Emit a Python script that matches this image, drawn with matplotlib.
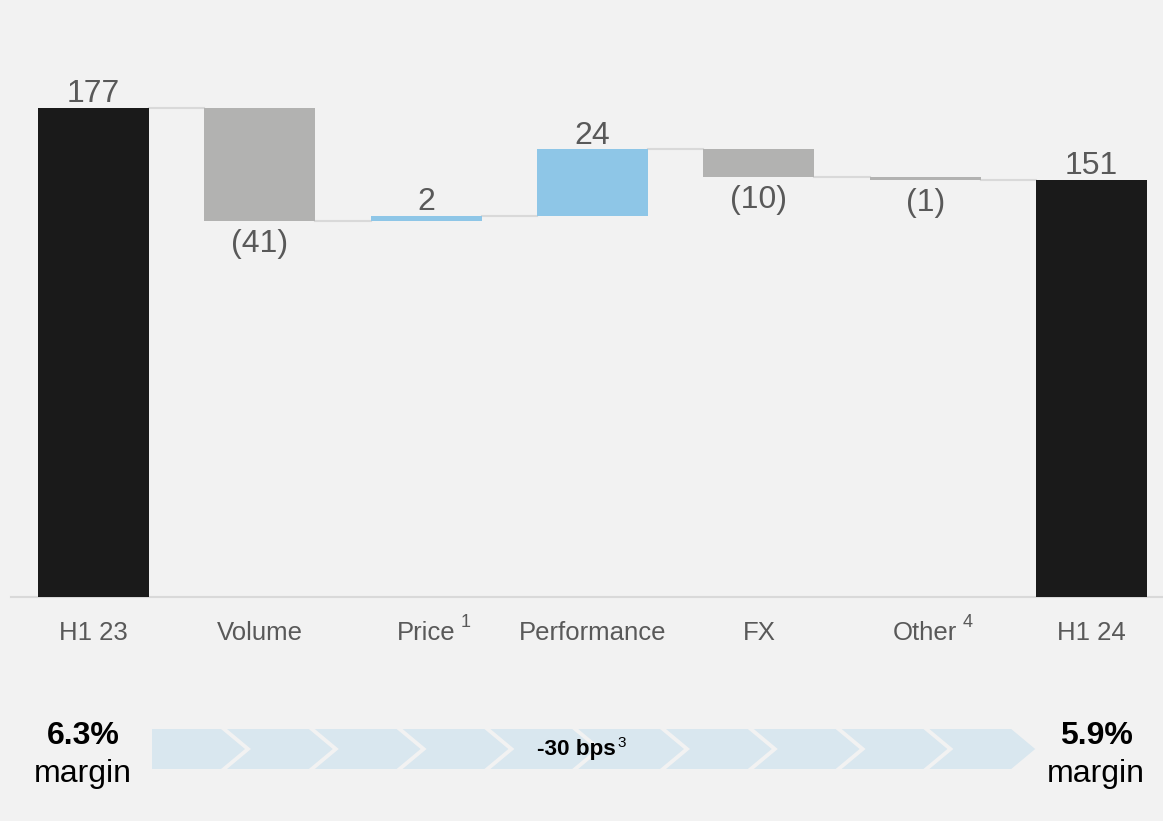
import matplotlib.pyplot as plt
from matplotlib.patches import Polygon

plt.rcParams['font.family'] = ['Liberation Sans', 'DejaVu Sans']

# datos del puente (EBIT, m)
categories = ['H1 23', 'Volume', 'Price', 'Performance', 'FX', 'Other', 'H1 24']
values = [177, -41, 2, 24, -10, -1, 151]
is_total = [True, False, False, False, False, False, True]
labels = ['177', '(41)', '2', '24', '(10)', '(1)', '151']
footnotes = {'Price': '1', 'Other': '4'}

margin_start = '6.3%'
margin_end = '5.9%'
margin_change = '-30 bps'

black = '#1a1a1a'
grey = '#b2b2b1'
blue = '#8ec6e7'
bg = '#f2f2f2'
txt = '#595959'

W, H = 1163, 821
fig = plt.figure(figsize=(W / 100, H / 100), dpi=100, facecolor=bg)
ax = fig.add_axes([11 / W, (H - 597) / H, 1 - 11 / W, 597 / H])
ax.set_facecolor(bg)

width = 0.667
running = 0
for i, v in enumerate(values):
    if is_total[i]:
        b, t = 0, v
        running = v
    else:
        b, t = sorted([running, running + v])
        running += v
    col = black if is_total[i] else (blue if v > 0 else grey)
    ax.bar(i, t - b, bottom=b, width=width, color=col, zorder=3)
    if is_total[i] or v > 0:
        ax.annotate(labels[i], (i, t), xytext=(0, -1), textcoords='offset points',
                    ha='center', va='bottom', fontsize=23, color=txt)
    else:
        ax.annotate(labels[i], (i, b), xytext=(0, -6), textcoords='offset points',
                    ha='center', va='top', fontsize=23, color=txt)

# lineas de conexion
level = values[0]
for i in range(len(values) - 1):
    if not is_total[i]:
        level += values[i]
    else:
        level = values[i]
    ax.plot([i + width / 2, i + 1 - width / 2], [level, level],
            color='#d9d9d9', lw=1.5, zorder=2)

ax.set_xlim(-0.496, 6.43)
ax.set_ylim(0, 216)
for s in ['top', 'left', 'right']:
    ax.spines[s].set_visible(False)
ax.spines['bottom'].set_color('#d9d9d9')
ax.spines['bottom'].set_linewidth(1.5)
ax.set_yticks([])
ax.set_xticks(range(len(categories)))
ax.set_xticklabels(categories, fontsize=18.5, color=txt)
ax.tick_params(axis='x', length=0, pad=17.5)

for i, c in enumerate(categories):
    if c in footnotes:
        dx = {'Price': 24.5, 'Other': 27}[c]
        ax.annotate(footnotes[c], (i, 0), xycoords=('data', 'axes fraction'),
                    xytext=(dx, -18.5), textcoords='offset points',
                    ha='left', va='center', fontsize=13, color=txt)

# franja de flechas del margen
ov = fig.add_axes([0, 0, 1, 1])
ov.set_xlim(0, W)
ov.set_ylim(H, 0)
ov.axis('off')
ov.patch.set_alpha(0)

n_chev = 10
pitch = 87.8
d = 24
top, bot = 729, 769
mid = (top + bot) / 2
for k in range(n_chev):
    tip = 245 + pitch * k
    right = tip - d
    if k == 0:
        pts = [(152, top), (right, top), (tip, mid), (right, bot), (152, bot)]
    else:
        left = 245 + pitch * (k - 1) - 18
        pts = [(left, top), (right, top), (tip, mid), (right, bot), (left, bot), (left + d, mid)]
    ov.add_patch(Polygon(pts, closed=True, facecolor='#d9e7ef', edgecolor='none'))

ov.text(576, 750, margin_change, ha='center', va='center', fontsize=16.2,
        fontweight='bold', color='black')
ov.text(617, 743, '3', ha='left', va='center', fontsize=11, color='black')

for x, m in [(83, margin_start), (1096, margin_end)]:
    ov.text(x, 736, m, ha='center', va='center', fontsize=23, fontweight='bold', color='black')
    ov.text(x, 774, 'margin', ha='center', va='center', fontsize=23, color='black')

fig.savefig('out.png', dpi=100, facecolor=bg)
